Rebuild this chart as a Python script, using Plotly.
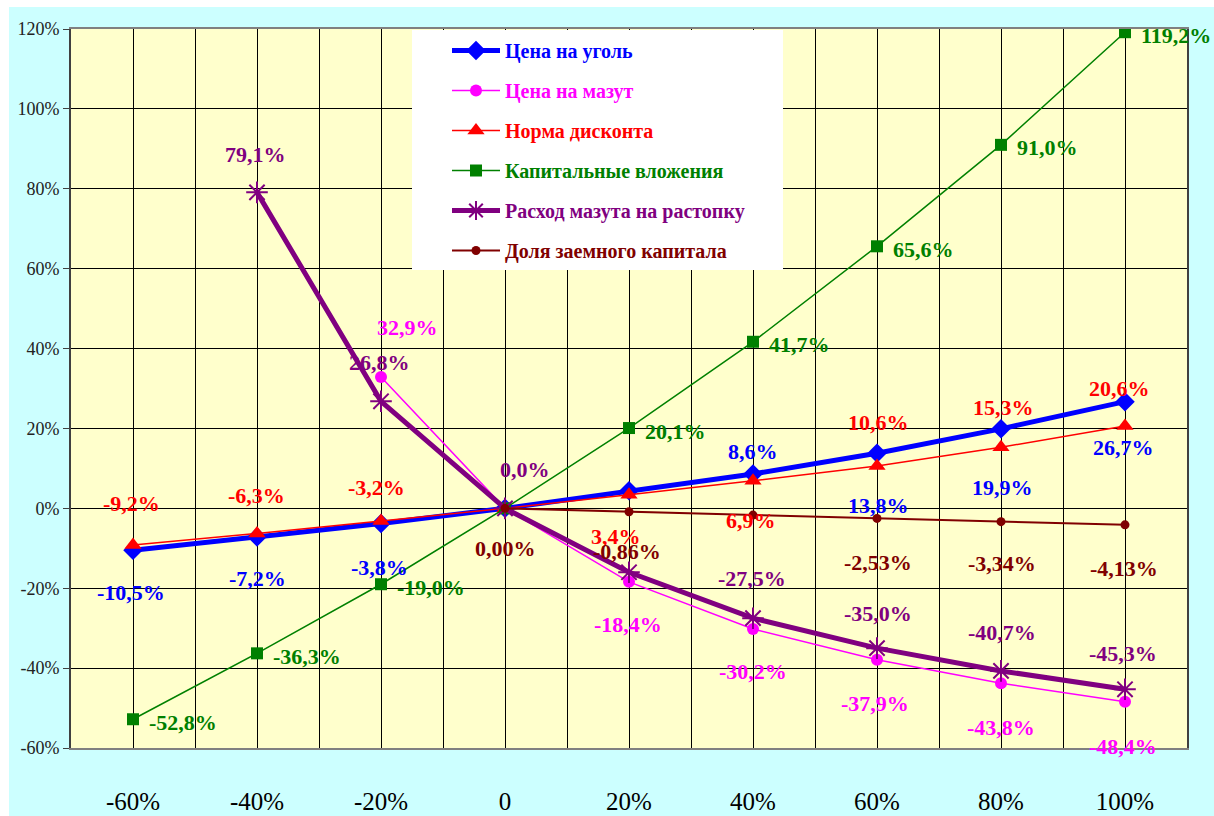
import plotly.graph_objects as go

# Sensitivity of the project result to parameter changes
categories = ["-60%", "-40%", "-20%", "0", "20%", "40%", "60%", "80%", "100%"]

coal_price = [-10.5, -7.2, -3.8, 0.0, 4.4, 8.6, 13.8, 19.9, 26.7]
fuel_oil_price = [None, None, 32.9, 0.0, -18.4, -30.2, -37.9, -43.8, -48.4]
discount_rate = [-9.2, -6.3, -3.2, 0.0, 3.4, 6.9, 10.6, 15.3, 20.6]
capital_investment = [-52.8, -36.3, -19.0, 0.0, 20.1, 41.7, 65.6, 91.0, 119.2]
kindling_oil = [None, 79.1, 26.8, 0.0, -16.0, -27.5, -35.0, -40.7, -45.3]
debt_share = [None, None, None, 0.00, -0.86, -1.70, -2.53, -3.34, -4.13]

y_ticks = [-60, -40, -20, 0, 20, 40, 60, 80, 100, 120]
y_tick_text = [f"{v}%" for v in y_ticks]

FONT = "Liberation Serif, Times New Roman, serif"
x = list(range(len(categories)))

# name, values, colour, line width, marker, marker size, decimals,
# label offsets {point index: (dx px, dy px up)}, label anchor
series = [
    ("Цена на уголь", coal_price, "#0000FF", 5, "diamond", 15, 1,
     {0: (-2, -42), 1: (0, -41), 2: (-2, -44), 5: (0, 22), 6: (1, -52),
      7: (1, -59), 8: (-2, -46)}, "center"),
    ("Цена на мазут", fuel_oil_price, "#FF00FF", 1.5, "circle", 12, 1,
     {2: (26, 49), 4: (-1, -43), 5: (0, -43), 6: (-2, -44), 7: (0, -44),
      8: (-2, -45)}, "center"),
    ("Норма дисконта", discount_rate, "#FF0000", 1.5, "triangle-up", 15, 1,
     {0: (-2, 42), 1: (-1, 38), 2: (-5, 34), 4: (-13, -42), 5: (-2, -40),
      6: (1, 43), 7: (2, 40), 8: (-6, 38)}, "center"),
    ("Капитальные вложения", capital_investment, "#008000", 1.5, "square", 12, 1,
     {i: (14, -3) for i in range(9) if i != 3}, "left"),
    ("Расход мазута на растопку", kindling_oil, "#800080", 5, "asterisk-open", 18, 1,
     {1: (-2, 38), 2: (-2, 39), 3: (20, 39), 5: (-1, 40), 6: (1, 35),
      7: (1, 38), 8: (-2, 36)}, "center"),
    ("Доля заемного капитала", debt_share, "#800000", 2, "circle", 9, 2,
     {3: (0, -40), 4: (-2, -40), 6: (1, -44), 7: (1, -42), 8: (-1, -44)}, "center"),
]

fig = go.Figure()
annotations = []
for k, (name, vals, color, lw, sym, msize, dec, offs, anchor) in enumerate(series):
    marker = dict(symbol=sym, size=msize, color=color)
    if sym == "asterisk-open":
        marker["line"] = dict(color=color, width=2)
    fig.add_trace(go.Scatter(
        x=x, y=vals, mode="lines+markers",
        name=f'<span style="color:{color}">{name}</span>',
        legendgroup=f"g{k}",
        line=dict(color=color, width=lw),
        marker=marker,
        connectgaps=False,
    ))
    for i, (dx, dy) in offs.items():
        v = vals[i]
        if v is None:
            continue
        txt = f"{v:.{dec}f}".replace(".", ",") + "%"
        annotations.append(dict(
            x=i, y=v, xref="x", yref="y", text=txt, showarrow=False,
            xshift=dx, yshift=dy, xanchor=anchor,
            font=dict(family=FONT, size=22, color=color, weight="bold"),
        ))

L, R, T, B = 71, 27, 29, 68
W, H = 1214, 816
pw, ph = W - L - R, H - T - B


def px_x(p):
    return (p - L) / pw


def px_y(p):
    return (H - B - p) / ph


shapes = [
    # thin white strips along the left and top page edges
    dict(type="rect", xref="paper", yref="paper",
         x0=px_x(-5), x1=px_x(9), y0=px_y(830), y1=px_y(-5),
         fillcolor="white", line=dict(width=0), layer="below"),
    dict(type="rect", xref="paper", yref="paper",
         x0=px_x(-5), x1=px_x(1220), y0=px_y(7), y1=px_y(-5),
         fillcolor="white", line=dict(width=0), layer="below"),
    # white legend panel
    dict(type="rect", xref="paper", yref="paper",
         x0=px_x(412), x1=px_x(783), y0=px_y(270), y1=px_y(30),
         fillcolor="white", line=dict(width=0), layer="above"),
]

fig.update_layout(
    width=W, height=H,
    margin=dict(l=L, r=R, t=T, b=B, autoexpand=False),
    paper_bgcolor="#CCFFFF",
    plot_bgcolor="#FFFFCC",
    showlegend=True,
    legend=dict(
        x=px_x(447), y=px_y(31), xanchor="left", yanchor="top",
        bgcolor="rgba(0,0,0,0)", borderwidth=0,
        font=dict(family=FONT, size=20, weight="bold"),
        tracegroupgap=11, itemwidth=48,
    ),
    annotations=annotations,
    shapes=shapes,
    xaxis=dict(
        range=[-0.5, 8.5], tickvals=x, ticktext=categories,
        showgrid=True, gridcolor="black", gridwidth=1,
        minor=dict(dtick=0.5, tick0=0, showgrid=True, gridcolor="black", gridwidth=1),
        showline=True, linecolor="#808080", linewidth=2, mirror=True,
        ticks="", ticklabelstandoff=30, automargin=False,
        tickfont=dict(family=FONT, size=25, color="black"),
        zeroline=False,
    ),
    yaxis=dict(
        range=[-60, 120], tickvals=y_ticks, ticktext=y_tick_text,
        showgrid=True, gridcolor="black", gridwidth=1,
        zeroline=True, zerolinecolor="black", zerolinewidth=1,
        showline=True, linecolor="#404040", linewidth=2, mirror=True,
        ticks="outside", ticklen=6, tickcolor="#404040", automargin=False,
        tickfont=dict(family=FONT, size=18, color="#222222"),
    ),
)

fig.write_html("out.html")
